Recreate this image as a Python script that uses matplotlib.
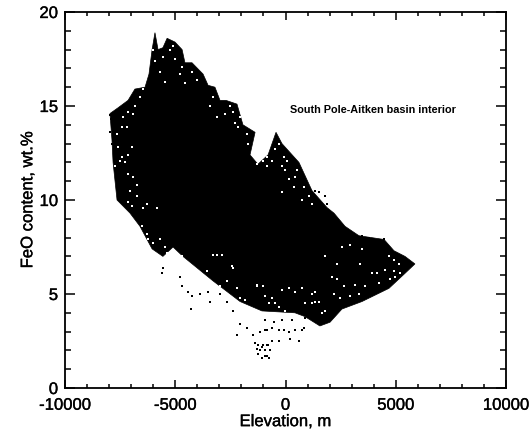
import matplotlib
matplotlib.use("Agg")
import matplotlib.pyplot as plt
import matplotlib.patheffects as pe
from matplotlib.ticker import MultipleLocator

plt.rcParams["font.family"] = ["Liberation Sans", "DejaVu Sans"]
plt.rcParams["axes.unicode_minus"] = False

# Edge of the solid black cloud
outline_elev = [-7960, -7600, -7140, -6830, -6370, -6190, -6050, -5920, -5780, -5560, -5370, -5010,
                -4690, -4560, -4240, -3740, -3510, -3200, -2970, -2700, -2200, -1930, -1380, -1610,
                -1250, -790, -430, -160, 610, 1200, 1880, 2200, 2700, 3330, 4470, 4920, 5420, 5870,
                5420, 4690, 3470, 2560, 2020, 1560, 880, 430, -1070, -2060, -3290, -4650, -5100,
                -5560, -6050, -6600, -7050, -7640, -7820, -7870]
outline_feo = [14.6, 14.9, 15.3, 15.9, 16.0, 16.7, 18.0, 18.9, 18.0, 18.1, 18.6, 18.4,
               18.0, 17.3, 17.3, 16.7, 16.1, 16.0, 15.3, 15.3, 15.1, 14.0, 13.6, 12.4,
               11.9, 12.4, 13.6, 13.0, 12.0, 10.5, 9.6, 9.3, 8.6, 8.1, 7.9, 7.3, 7.0, 6.6,
               6.1, 5.3, 4.6, 4.2, 3.5, 3.3, 3.8, 4.0, 4.1, 4.6, 5.7, 7.0, 7.5,
               7.0, 7.4, 8.6, 9.3, 10.0, 12.0, 13.2]

# Gaps inside the cloud
gap_elev = [-7430, -7200, -6900, -6600, -6980, -7130, -7280, -7500, -6900, -7050, -6750, -6300, -5840,
            -5690, -5920, -5240, -5010, -4710, -4780, -4560, -5470, -3420, -3120, -2520, -2140, -1760,
            -1310, -1000, -1310, -850, -2060, -80, 140, 450, -160, 750, -610, -10, 370,
            2560, 2940, 3470, 3920, 4900, 4680, 5130, 4980, 3170, 2490, 1350, 1650, 140, -760, -310,
            1810, 2340, 2110, 1200, 450, 900, 3320,
            -6300, -6000, -5470, -4480, -3880, -2970, -2060, -1310, -3270, -2365, -1460, -1760,
            -160, -610, 750, 1350, 1500, 1810, 1200, 2185, 2640, 2940, 3620, 4150, 4530, 4905,
            5210, 4750, 4225, 3390, 2335, -20, -460, -915,
            -7655, -7350, -7580, -7430, -7730, -7130, -6750, -7130, -6450, -6980, -6825, -6450, -7130,
            -5990, -5540, -5085, -4480, -4255, -4030, -3270, -2740, -2365, -2290, -1685, -1460,
            -310, -460, 68, 520, -160, 825, 1050, -840, 1200,
            -6520, -6220, -5690, -5390, -4710, -4330, -4030, -3575, -2670, -2215, -1840, -1685, -1000,
            -3120, -2890, -2440, -1310, -1000]
gap_feo = [13.9, 13.9, 14.6, 15.5, 12.8, 12.4, 12.0, 12.1, 11.2, 10.5, 10.2, 9.8, 9.6,
           16.8, 17.4, 18.0, 17.5, 17.1, 16.7, 16.2, 16.3, 15.0, 14.4, 15.0, 13.9, 13.5,
           13.5, 12.1, 11.9, 12.3, 14.4, 12.3, 11.1, 11.2, 10.4, 10.0, 12.1, 11.6, 10.7,
           7.5, 7.6, 7.4, 6.1, 6.2, 7.0, 6.6, 5.9, 5.5, 4.8, 4.6, 4.0, 5.3, 4.5, 4.3,
           7.0, 6.6, 5.9, 5.0, 5.1, 4.5, 5.0,
           8.2, 7.7, 7.5, 6.6, 5.7, 5.4, 4.8, 5.4, 7.1, 6.4, 4.1, 4.2,
           5.2, 4.8, 5.3, 5.1, 4.6, 4.1, 4.5, 5.0, 5.4, 4.9, 5.4, 6.1, 6.3, 6.8,
           6.1, 5.8, 5.6, 6.6, 5.8, 4.1, 4.5, 4.9,
           13.5, 14.4, 12.8, 12.3, 11.8, 11.4, 10.8, 9.9, 9.6, 9.7, 15.0, 15.9, 14.7,
           18.0, 17.6, 18.2, 17.4, 16.8, 16.4, 15.5, 14.6, 14.7, 14.1, 13.0, 12.7,
           13.0, 12.7, 12.1, 11.6, 11.8, 10.7, 10.2, 11.8, 9.8,
           8.6, 7.9, 7.9, 7.2, 7.0, 6.3, 6.1, 6.2, 5.7, 5.3, 4.7, 3.9, 3.8,
           7.1, 7.1, 6.5, 5.5, 5.4]

# Loose points outside the solid part
loose_elev = [-5585, -5540, -4780, -4710, -4400, -4250, -4285, -3880, -3500, -3420, -2970, -2670,
              -2365, -2060, -2180, -1760, -1460, -1160, -850,
              -1380, -1310, -1230, -1080, -850, -1230, -1000, -780, -1160, -930, -700,
              -690, -760, -915, -1070, -840, -610, -915, -610, -310, -80, -310, 220, 600, 750,
              450, 140, 820, 900, 295, -160, -540, -915, 3770, 4450, 3470,
              1500, 1800, 1880, 1350, -7960, -7900, -7960, -7880, -7730]
loose_feo = [6.1, 6.4, 5.9, 5.4, 5.1, 4.9, 4.2, 5.0, 5.1, 4.6, 5.0, 4.6,
             4.1, 3.4, 2.8, 3.2, 2.8, 3.0, 3.1,
             2.4, 2.1, 1.8, 1.6, 1.7, 2.3, 2.3, 2.3, 2.0, 2.0, 2.0,
             2.0, 1.6, 1.7, 2.2, 2.3, 2.5, 3.1, 3.2, 3.1, 3.1, 2.5, 2.6, 2.5, 3.1,
             3.1, 3.0, 3.2, 3.7, 3.6, 3.6, 3.5, 3.6, 8.0, 7.9, 8.1,
             10.4, 10.2, 9.8, 10.5, 14.5, 14.3, 13.6, 13.0, 12.5]

fig = plt.figure(figsize=(5.32, 4.29), dpi=100)
ax = fig.add_axes([65 / 532, 41 / 429, 441 / 532, 376 / 429])

ax.fill(outline_elev, outline_feo, color="black", lw=0.5, zorder=2)
ax.scatter(gap_elev, gap_feo, s=3, marker="s", color="white", linewidths=0, zorder=3)
ax.scatter(loose_elev, loose_feo, s=3, marker="s", color="black", linewidths=0, zorder=3)

ax.set_xlim(-10000, 10000)
ax.set_ylim(0, 20)
ax.xaxis.set_major_locator(MultipleLocator(5000))
ax.xaxis.set_minor_locator(MultipleLocator(1000))
ax.yaxis.set_major_locator(MultipleLocator(5))
ax.yaxis.set_minor_locator(MultipleLocator(1))
ax.tick_params(axis="x", which="major", direction="in", top=True, length=6, width=1.1, labelsize=12, pad=7)
ax.tick_params(axis="x", which="minor", direction="in", top=True, length=3, width=1.1)
ax.tick_params(axis="y", which="major", direction="in", right=True, length=7.5, width=1.1, labelsize=12, pad=5)
ax.tick_params(axis="y", which="minor", direction="in", right=True, length=4, width=1.1)
for side in ax.spines.values():
    side.set_linewidth(1.3)

# the end labels of the y axis sit inside the axis range in the original
fig.canvas.draw()
ylabels = ax.get_yticklabels()
ylabels[0].set_va("bottom")
ylabels[-1].set_va("top")

ax.set_xlabel("Elevation, m", fontsize=12, labelpad=1)
ax.set_ylabel("FeO content, wt.%", fontsize=12, labelpad=3)
note = ax.text(3950, 14.8, "South Pole-Aitken basin interior", fontsize=7.8, fontweight="bold", ha="center", va="center")

# scanned text looks heavier than the plain font
heavy = [pe.withStroke(linewidth=0.25, foreground="black")]
for t in ax.get_xticklabels() + ylabels + [ax.xaxis.label, ax.yaxis.label]:
    t.set_path_effects(heavy)

fig.savefig("out.png", dpi=100)
